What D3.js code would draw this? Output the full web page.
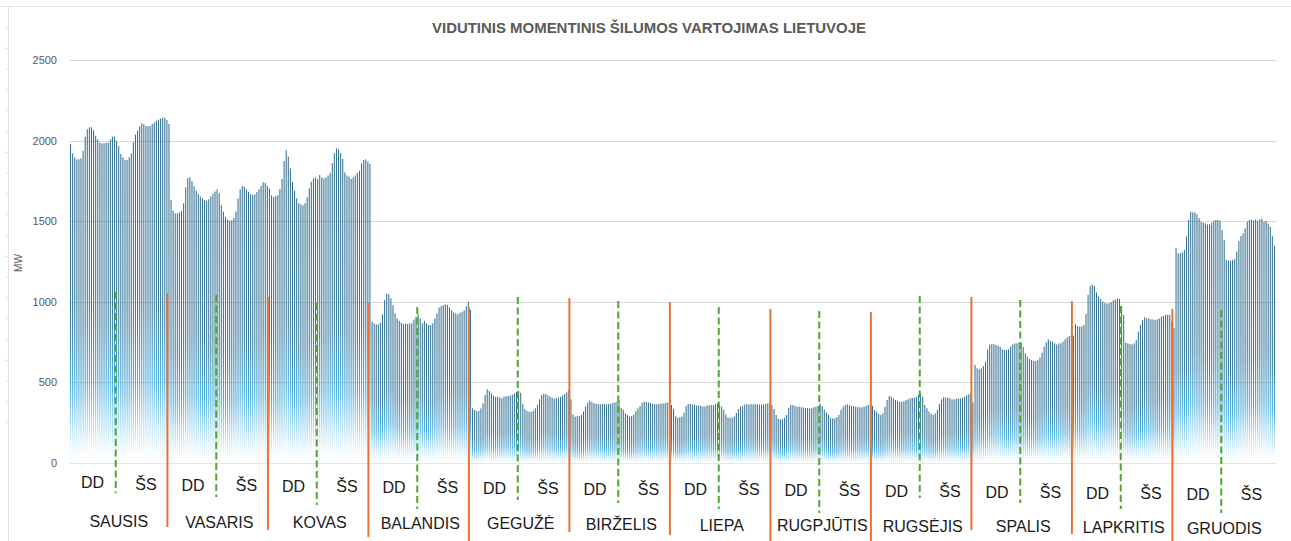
<!DOCTYPE html>
<html>
<head>
<meta charset="utf-8">
<script src="https://cdn.jsdelivr.net/npm/d3@7"></script>
<style>
  html, body { margin: 0; padding: 0; background: #ffffff; }
  svg { display: block; }
</style>
</head>
<body>
<div id="chart"></div>
<script>
// ---------------- DATA ----------------
const title = "VIDUTINIS MOMENTINIS ŠILUMOS VARTOJIMAS LIETUVOJE";
const months = ["SAUSIS","VASARIS","KOVAS","BALANDIS","GEGUŽĖ","BIRŽELIS","LIEPA","RUGPJŪTIS","RUGSĖJIS","SPALIS","LAPKRITIS","GRUODIS"];
const dayTypes = ["DD", "ŠS"];
const yTicks = [0, 500, 1000, 1500, 2000, 2500];
const yLabel = "MW";

// hourly averages, working days (DD), 24 values per month
const workdayMW = [
  [1979,1921,1896,1884,1884,1890,1937,2024,2070,2082,2082,2065,2030,2008,1987,1983,1983,1987,1987,2008,2024,2024,1999,1966],
  [1631,1565,1549,1549,1555,1563,1611,1710,1766,1772,1749,1718,1690,1670,1652,1642,1631,1627,1636,1653,1670,1684,1698,1673],
  [1660,1650,1655,1662,1700,1762,1873,1940,1900,1828,1745,1690,1642,1611,1604,1598,1611,1648,1704,1745,1766,1772,1762,1786],
  [877,866,860,860,870,922,1011,1048,1048,1021,980,928,897,882,870,862,866,862,866,866,890,907,922,897],
  [339,329,322,322,339,370,422,457,447,432,418,411,411,405,401,411,415,415,419,424,432,442,447,436],
  [302,288,290,292,298,319,350,374,387,378,370,368,366,364,366,366,364,366,368,372,376,380,384,340],
  [335,290,280,284,288,312,353,366,366,362,362,356,356,356,350,350,356,358,360,360,366,370,358,350],
  [335,298,275,271,271,280,298,343,360,360,353,349,349,345,345,341,341,337,340,345,349,353,370,353],
  [329,319,304,298,308,349,391,415,411,401,391,384,380,380,384,391,395,401,405,405,411,422,428,411],
  [608,588,581,588,602,629,705,736,736,738,732,728,722,705,701,701,705,722,736,742,742,746,746,720],
  [862,850,846,846,856,925,1043,1099,1106,1099,1058,1033,1017,1002,992,988,992,998,1009,1013,1019,1017,971,919],
  [1332,1301,1301,1307,1322,1405,1508,1559,1555,1555,1543,1518,1497,1491,1486,1480,1480,1491,1503,1508,1508,1503,1445,1383]
];
// hourly averages, weekends (ŠS), 24 values per month
const weekendMW = [
  [1917,1896,1879,1879,1896,1921,1989,2037,2061,2088,2107,2101,2090,2090,2090,2103,2113,2123,2130,2136,2142,2142,2128,2103],
  [1600,1560,1528,1510,1503,1507,1520,1560,1640,1698,1718,1714,1698,1683,1667,1663,1667,1680,1698,1718,1742,1738,1720,1703],
  [1772,1766,1770,1784,1800,1860,1921,1952,1946,1921,1886,1803,1784,1776,1762,1772,1784,1800,1813,1859,1880,1884,1870,1855],
  [866,882,866,856,856,866,897,928,965,973,980,984,980,965,948,934,928,922,932,938,948,973,1000,950],
  [365,335,322,318,318,325,340,360,395,422,430,428,420,412,405,400,402,405,410,418,428,438,450,395],
  [330,308,298,288,292,300,322,339,353,374,380,378,376,372,366,366,364,366,368,370,372,374,380,360],
  [330,300,282,280,280,290,310,335,350,355,362,366,362,366,364,366,364,362,362,364,366,370,372,360],
  [330,314,298,280,277,277,285,298,329,350,360,364,358,353,353,349,347,345,345,349,355,360,365,355],
  [360,339,319,304,298,308,330,366,395,407,405,407,401,395,395,398,401,401,405,411,420,426,432,375],
  [680,659,645,639,633,633,639,656,685,722,749,767,757,753,742,736,742,742,753,767,780,788,794,790],
  [746,742,738,736,742,763,815,856,887,904,897,897,891,891,887,891,897,908,912,919,919,919,877,836],
  [1259,1255,1255,1259,1265,1311,1377,1408,1424,1455,1497,1508,1508,1503,1511,1503,1511,1517,1497,1503,1486,1465,1408,1349]
];
// hand-drawn annotation line tops (in MW) as in the original
const monthDividerTopMW = [1054,1030,992,967,1023,998,955,936,1030,1005,955];
const dayTypeDividerTopMW = [1061,1042,992,968,1030,1005,968,943,1036,1011,974,949];

// ---------------- LAYOUT ----------------
const W = 1291, H = 541;
const plot = { left: 69.5, right: 1275.5, top: 60, bottom: 463 };

const svg = d3.select("#chart").append("svg")
  .attr("width", W).attr("height", H)
  .style("font-family", "'Liberation Sans', Arial, sans-serif");

svg.append("rect").attr("width", W).attr("height", H).attr("fill", "#ffffff");

// faint page frame (ruler-like) at top and left
const frame = svg.append("g").attr("stroke", "#e0e0e0").attr("stroke-width", 1);
frame.append("line").attr("x1", 0).attr("x2", W).attr("y1", 6.5).attr("y2", 6.5);
frame.append("line").attr("x1", 8.5).attr("x2", 8.5).attr("y1", 6.5).attr("y2", H);
d3.range(0, 20).forEach(k => {
  frame.append("line").attr("x1", 5.5).attr("x2", 8.5)
    .attr("y1", 27.5 + k * 20.8).attr("y2", 27.5 + k * 20.8);
});

// flattened series
const flat = [];
months.forEach((m, mi) => {
  workdayMW[mi].forEach((v, h) => flat.push({ month: m, type: "DD", hour: h, value: v }));
  weekendMW[mi].forEach((v, h) => flat.push({ month: m, type: "ŠS", hour: h, value: v }));
});

const x = d3.scaleBand()
  .domain(d3.range(flat.length))
  .range([plot.left, plot.right])
  .paddingInner(0.5)
  .paddingOuter(0.25);

const xMonth = d3.scaleBand().domain(months).range([plot.left, plot.right]);
const xHalf = d3.scaleBand()
  .domain(months.flatMap(m => dayTypes.map(t => m + "|" + t)))
  .range([plot.left, plot.right]);

const y = d3.scaleLinear().domain([0, 2500]).range([plot.bottom, plot.top]);

// gradient
const defs = svg.append("defs");
const grad = defs.append("linearGradient").attr("id", "barGrad")
  .attr("x1", 0).attr("y1", 0).attr("x2", 0).attr("y2", 1);
[
  [0, "#346f8f"],
  [0.55, "#3a7a9d"],
  [0.76, "#48ade0"],
  [0.87, "#a6d9f1"],
  [0.95, "#e6f5fc"],
  [1, "#ffffff"]
].forEach(([o, c]) => grad.append("stop").attr("offset", o).attr("stop-color", c));

// title
svg.append("text")
  .attr("x", 649).attr("y", 33)
  .attr("text-anchor", "middle")
  .attr("font-family", "'Liberation Sans Narrow', 'Liberation Sans', Arial, sans-serif")
  .attr("font-weight", "bold")
  .attr("font-size", 15)
  .attr("fill", "#595959")
  .attr("textLength", 434)
  .attr("lengthAdjust", "spacingAndGlyphs")
  .text(title);

// gridlines
svg.append("g").selectAll("line").data(yTicks).join("line")
  .attr("x1", plot.left).attr("x2", plot.right + 1)
  .attr("y1", d => Math.round(y(d)) + 0.5).attr("y2", d => Math.round(y(d)) + 0.5)
  .attr("stroke", d => d === 0 ? "#e6e6e6" : "#d9d9d9").attr("stroke-width", 1);

// y axis
const yAxis = d3.axisLeft(y).tickValues(yTicks).tickSize(0).tickPadding(0).tickFormat(d3.format("d"));
const gy = svg.append("g").attr("transform", `translate(57,0)`).call(yAxis);
gy.select(".domain").remove();
gy.selectAll("text").attr("font-size", 11).attr("fill", "#595959")
  .attr("font-family", "'Liberation Sans', Arial, sans-serif");

svg.append("text")
  .attr("transform", `translate(22,263) rotate(-90)`)
  .attr("text-anchor", "middle")
  .attr("font-size", 10).attr("fill", "#595959")
  .text(yLabel);

// bars
svg.append("g").selectAll("rect").data(flat).join("rect")
  .attr("x", (d, i) => x(i))
  .attr("width", x.bandwidth())
  .attr("y", d => y(d.value))
  .attr("height", d => y(0) - y(d.value))
  .attr("fill", "url(#barGrad)");

// month dividers (orange)
const dividerBottom = [527, 530, 537, 541, 532, 535, 541, 541, 530, 534, 541];
svg.append("g").selectAll("line").data(months.slice(1)).join("line")
  .attr("x1", d => xMonth(d) - 2.6).attr("x2", d => xMonth(d) - 2.6)
  .attr("y1", (d, i) => y(monthDividerTopMW[i]))
  .attr("y2", (d, i) => dividerBottom[i])
  .attr("stroke", "#E97132").attr("stroke-width", 2);

// DD / ŠS dividers (green dashed)
const midBottom = [493, 497, 505, 509, 500, 503, 509, 513, 498, 503, 509, 513];
svg.append("g").selectAll("line").data(months).join("line")
  .attr("x1", d => xMonth(d) + xMonth.bandwidth() / 2 - 4)
  .attr("x2", d => xMonth(d) + xMonth.bandwidth() / 2 - 4)
  .attr("y1", (d, i) => y(dayTypeDividerTopMW[i]))
  .attr("y2", (d, i) => midBottom[i])
  .attr("stroke", "#4EA72E").attr("stroke-width", 2)
  .attr("stroke-dasharray", "7,3.5");

// DD / ŠS labels
const labG = svg.append("g").attr("font-size", 16).attr("fill", "#1a1a1a").attr("text-anchor", "middle");
months.forEach((m, mi) => {
  dayTypes.forEach((t, ti) => {
    const cx = xHalf(m + "|" + t) + xHalf.bandwidth() / 2 + (ti === 0 ? -2 : 1);
    const by = 490 + mi * 0.9 + (ti === 0 && mi === 0 ? -2 : 0);
    labG.append("text").attr("x", cx).attr("y", by).text(t);
  });
});

// month labels
const monG = svg.append("g").attr("font-size", 16).attr("fill", "#1a1a1a").attr("text-anchor", "middle");
months.forEach((m, mi) => {
  monG.append("text")
    .attr("x", xMonth(m) + xMonth.bandwidth() / 2 - 1)
    .attr("y", 527 + mi * 0.6)
    .text(m);
});
</script>
</body>
</html>
